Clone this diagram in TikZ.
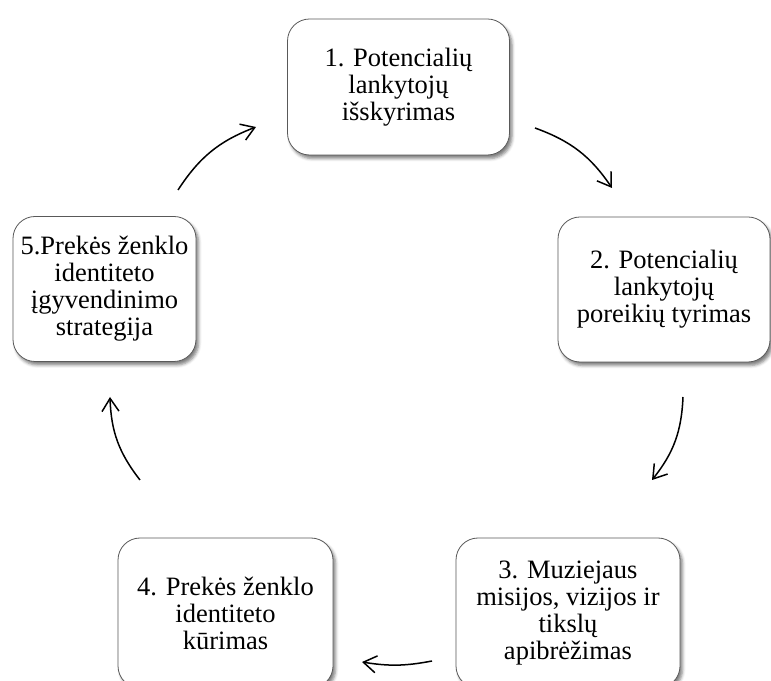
\documentclass[tikz,border=0pt]{standalone}
\usepackage{fontspec}
\setmainfont{Liberation Serif}
\usetikzlibrary{arrows.meta,shadows.blur}

\tikzset{
  stagebox/.style={
    draw=black!65, line width=0.8pt, fill=white,
    rounded corners=22pt, align=center,
    font=\fontsize{26.5}{27}\selectfont,
    inner sep=0pt,
    blur shadow={shadow xshift=2.5pt, shadow yshift=-3.5pt,
                 shadow blur radius=3pt, shadow opacity=50}
  },
  cyclearrow/.style={
    draw=black, line width=1.5pt,
    -{Straight Barb[length=13pt, width=17pt, line width=1.5pt]}
  }
}

\begin{document}
\begin{tikzpicture}[x=1pt, y=1pt]
  \useasboundingbox (0,0) rectangle (771,680);

  % stage boxes
  \node[stagebox, minimum width=222pt, minimum height=136pt] (s1) at (398.5,593)
    {1. Potencialių\\lankytojų\\išskyrimas};
  \node[stagebox, minimum width=212pt, minimum height=145pt] (s2) at (664,390.5)
    {2. Potencialių\\lankytojų\\poreikių tyrimas};
  \node[stagebox, minimum width=224pt, minimum height=150pt] (s3) at (568,67)
    {3. Muziejaus\\misijos, vizijos ir\\tikslų\\apibrėžimas};
  \node[stagebox, minimum width=215pt, minimum height=150pt] (s4) at (225.5,67)
    {4. Prekės ženklo\\identiteto\\kūrimas};
  \node[stagebox, minimum width=183pt, minimum height=145pt] (s5) at (104.5,391)
    {5.Prekės ženklo\\identiteto\\įgyvendinimo\\strategija};

  % arrow end points between the boxes
  \coordinate (a12s) at (535,552);
  \coordinate (a12e) at (612,492);
  \coordinate (a23s) at (683,283);
  \coordinate (a23e) at (652,200);
  \coordinate (a34s) at (432,19);
  \coordinate (a34e) at (362,18);
  \coordinate (a45s) at (140,200);
  \coordinate (a45e) at (110,283);
  \coordinate (a51s) at (178,490);
  \coordinate (a51e) at (256,553);

  % clockwise cycle arrows
  \draw[cyclearrow] (a12s) to[bend left=18] (a12e);
  \draw[cyclearrow] (a23s) to[bend left=18] (a23e);
  \draw[cyclearrow] (a34s) to[bend left=10] (a34e);
  \draw[cyclearrow] (a45s) to[bend left=18] (a45e);
  \draw[cyclearrow] (a51s) to[bend left=18] (a51e);
\end{tikzpicture}
\end{document}
